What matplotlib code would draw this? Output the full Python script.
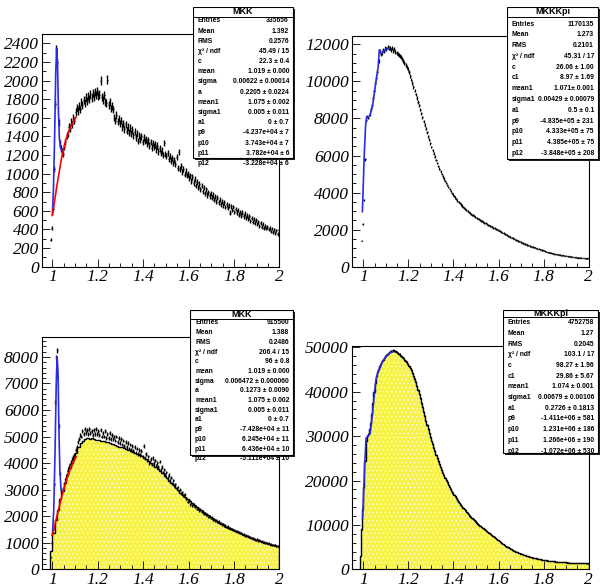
import numpy as np
import matplotlib.pyplot as plt
from matplotlib.patches import Rectangle
from matplotlib.ticker import MultipleLocator, FixedLocator, FuncFormatter

W, H = 602, 587
BW = 0.005  # bin width of the fine histograms

# ---- MKK, first sample (top left): bin contents from 0.99, width 0.005 ----
mkk_top_lo = 0.99
mkk_top = [
    290, 420, 620, 1050, 1750, 2330, 2200, 1550, 1320, 1270,
    1240, 1210, 1290, 1340, 1410, 1430, 1500, 1490, 1560, 1530,
    1600, 1570, 1660, 1710, 1670, 1730, 1690, 1770, 1740, 1790,
    1760, 1820, 1780, 1830, 1800, 1860, 1810, 1870, 1820, 1880,
    1840, 1890, 1830, 1850, 2000, 1820, 1790, 1840, 1770, 1760,
    2010, 1740, 1770, 1700, 1730, 1690, 1600, 1570, 1630, 1560,
    1590, 1540, 1570, 1500, 1540, 1480, 1530, 1460, 1500, 1440,
    1490, 1430, 1470, 1410, 1450, 1390, 1430, 1350, 1410, 1370,
    1400, 1340, 1390, 1350, 1370, 1320, 1360, 1300, 1340, 1280,
    1330, 1290, 1310, 1260, 1300, 1240, 1270, 1220, 1250, 1200,
    1330, 1210, 1190, 1220, 1160, 1190, 1140, 1170, 1110, 1150,
    1100, 1180, 1060, 1230, 1050, 1080, 1020, 1050, 990, 1030,
    980, 1000, 950, 980, 920, 960, 900, 940, 870, 910,
    850, 890, 830, 870, 810, 850, 790, 830, 770, 800,
    760, 790, 740, 770, 720, 750, 700, 740, 690, 720,
    670, 700, 660, 690, 640, 670, 630, 660, 580, 650,
    610, 640, 590, 620, 580, 610, 560, 590, 550, 580,
    540, 570, 520, 550, 510, 540, 490, 520, 480, 510,
    470, 500, 460, 480, 440, 470, 430, 460, 420, 440,
    410, 430, 400, 420, 380, 410, 370, 400, 360, 390,
    350, 390,
]
mkk_top_sig_x = [1.0, 1.005, 1.01, 1.015, 1.019, 1.023, 1.027, 1.031, 1.036, 1.041, 1.046, 1.05]
mkk_top_sig_y = [560, 850, 1400, 2100, 2350, 2150, 1650, 1380, 1280, 1250, 1240, 1260]
mkk_top_bkg_x = [1.0, 1.02, 1.04, 1.06, 1.08, 1.10, 1.104]
mkk_top_bkg_y = [550, 870, 1160, 1370, 1500, 1590, 1605]

# ---- MKKKpi, first sample (top right) ----
kpi_top_lo = 0.99
kpi_top = [
    1400, 2300, 3600, 5800, 7900, 8100, 8050, 8250, 8500, 8700,
    9100, 9500, 9900, 10200, 10500, 11100, 11650, 11500, 11550, 11700,
    11650, 11800, 11750, 11850, 11780, 11820, 11700, 11780, 11650, 11750,
    11600, 11550, 11500, 11450, 11380, 11300, 11200, 11100, 11000, 10900,
    10800, 10650, 10500, 10300, 10100, 9900, 9700, 9500, 9300, 9100,
    8900, 8700, 8480, 8270, 8060, 7850, 7650, 7450, 7250, 7050,
    6850, 6650, 6460, 6280, 6100, 5930, 5760, 5600, 5440, 5290,
    5150, 5010, 4880, 4750, 4630, 4510, 4400, 4290, 4190, 4090,
    3990, 3900, 3810, 3730, 3650, 3570, 3500, 3430, 3360, 3300,
    3240, 3180, 3120, 3070, 3010, 2960, 2910, 2860, 2810, 2770,
    2720, 2680, 2640, 2600, 2560, 2520, 2480, 2450, 2410, 2370,
    2340, 2300, 2270, 2230, 2200, 2170, 2130, 2100, 2070, 2040,
    2010, 1980, 1950, 1910, 1880, 1840, 1810, 1770, 1740, 1700,
    1670, 1640, 1610, 1570, 1540, 1510, 1480, 1450, 1420, 1390,
    1360, 1330, 1300, 1280, 1250, 1220, 1200, 1170, 1150, 1120,
    1100, 1080, 1060, 1040, 1020, 1000, 980, 960, 940, 920,
    900, 880, 850, 830, 810, 790, 775, 760, 745, 725,
    710, 695, 680, 670, 660, 645, 635, 625, 615, 605,
    595, 585, 575, 565, 555, 545, 540, 530, 520, 515,
    505, 500, 495, 490, 480, 475, 470, 465, 460, 455,
    450, 445,
]
kpi_top_fit_x = [0.996, 1.004, 1.010, 1.015, 1.020, 1.025, 1.030, 1.041, 1.055, 1.066,
                 1.071, 1.076, 1.081, 1.090, 1.096, 1.105, 1.115]
kpi_top_fit_y = [2970, 6000, 7600, 8100, 8060, 8100, 8190, 8670, 9900, 10800,
                 11700, 11600, 11520, 11600, 11700, 11750, 11800]

# ---- MKK, second sample (bottom left) ----
mkk_bot_lo = 0.99
mkk_bot = [
    450, 1000, 1500, 3200, 6300, 8000, 8250, 5400, 3600, 3000,
    2950, 3050, 3250, 3400, 3550, 3700, 3850, 3950, 4050, 4150,
    4250, 4300, 4500, 4600, 4800, 4900, 5050, 5000, 5200, 5100,
    5300, 5150, 5250, 5100, 5300, 5150, 5200, 5050, 5250, 5100,
    5300, 5100, 5200, 5050, 5250, 5000, 5150, 5000, 5200, 4950,
    5100, 4950, 5150, 4900, 5050, 4900, 5000, 4850, 5000, 4800,
    4950, 4750, 4900, 4700, 4850, 4650, 4800, 4600, 4750, 4550,
    4700, 4500, 4650, 4450, 4600, 4400, 4550, 4350, 4500, 4300,
    4450, 4250, 4640, 4200, 4350, 4100, 4250, 4000, 4150, 3950,
    4200, 4000, 4100, 3900, 4000, 3850, 4050, 3750, 3850, 3650,
    3750, 3550, 3650, 3450, 3550, 3350, 3450, 3250, 3350, 3150,
    3200, 3050, 3100, 2950, 3000, 2850, 2900, 2780, 2820, 2680,
    2650, 2550, 2600, 2450, 2500, 2400, 2450, 2350, 2380, 2280,
    2300, 2220, 2250, 2150, 2180, 2100, 2120, 2040, 2060, 1980,
    2000, 1930, 1950, 1880, 1900, 1830, 1850, 1780, 1800, 1730,
    1750, 1690, 1700, 1640, 1650, 1600, 1610, 1550, 1570, 1510,
    1520, 1470, 1480, 1430, 1440, 1390, 1400, 1350, 1360, 1310,
    1320, 1270, 1290, 1240, 1250, 1200, 1220, 1170, 1190, 1140,
    1160, 1110, 1130, 1080, 1100, 1050, 1070, 1020, 1040, 990,
    1010, 970, 980, 940, 960, 920, 930, 900, 910, 870,
    890, 850,
]
# filled reference histogram, width 0.01 from 0.99
mkk_bot_fill_lo = 0.99
mkk_bot_fill_bw = 0.01
mkk_bot_fill = [
    700, 1350, 1850, 2250, 2650, 2950, 3250, 3550, 3800, 4000,
    4200, 4400, 4600, 4750, 4850, 4900, 4950, 4920, 4950, 4900,
    4880, 4860, 4850, 4820, 4800, 4780, 4750, 4720, 4680, 4650,
    4620, 4600, 4570, 4540, 4500, 4470, 4430, 4390, 4350, 4300,
    4250, 4200, 4140, 4080, 4010, 3940, 3860, 3780, 3700, 3610,
    3520, 3430, 3340, 3250, 3160, 3070, 2980, 2890, 2810, 2730,
    2650, 2570, 2500, 2430, 2360, 2290, 2220, 2160, 2100, 2040,
    1980, 1920, 1870, 1810, 1760, 1710, 1660, 1610, 1570, 1520,
    1480, 1440, 1400, 1360, 1320, 1280, 1250, 1210, 1180, 1150,
    1120, 1090, 1060, 1030, 1000, 980, 950, 930, 900, 880,
    860,
]
mkk_bot_sig_x = [1.0, 1.006, 1.012, 1.017, 1.021, 1.025, 1.029, 1.033, 1.038, 1.045, 1.05]
mkk_bot_sig_y = [1290, 2200, 4500, 7000, 8000, 7400, 5200, 3700, 3050, 2900, 3000]
mkk_bot_bkg_x = [1.0, 1.02, 1.04, 1.06, 1.08, 1.104]
mkk_bot_bkg_y = [1290, 2000, 2700, 3300, 3800, 4240]

# ---- MKKKpi, second sample (bottom right) ----
kpi_bot_lo = 0.985
kpi_bot = [
    3000, 9000, 13500, 18500, 24500, 29000, 30000, 30500, 31500, 33000,
    35000, 37500, 40000, 42000, 43500, 44500, 45200, 45800, 46300, 46800,
    47200, 47600, 48000, 48300, 48600, 48800, 49000, 49100, 49200, 49300,
    49200, 49100, 49000, 48800, 48600, 48400, 48100, 47800, 47500, 47200,
    46900, 46600, 46200, 45800, 45300, 44800, 44200, 43600, 42900, 42100,
    41300, 40400, 39500, 38500, 37500, 36500, 35500, 34500, 33500, 32500,
    31600, 30700, 29800, 29000, 28200, 27400, 26600, 25800, 25100, 24400,
    23700, 23000, 22400, 21800, 21200, 20600, 20100, 19600, 19100, 18600,
    18100, 17600, 17200, 16800, 16400, 16000, 15600, 15200, 14900, 14500,
    14200, 13900, 13600, 13300, 13000, 12700, 12400, 12100, 11800, 11500,
    11300, 11000, 10800, 10500, 10300, 10000, 9800, 9600, 9400, 9200,
    9000, 8800, 8600, 8400, 8200, 8000, 7800, 7600, 7400, 7200,
    7000, 6800, 6600, 6400, 6200, 6000, 5800, 5600, 5400, 5250,
    5100, 4950, 4800, 4650, 4500, 4350, 4200, 4100, 3950, 3850,
    3750, 3650, 3550, 3450, 3350, 3250, 3150, 3060, 2980, 2900,
    2830, 2760, 2690, 2620, 2560, 2500, 2440, 2380, 2330, 2280,
    2230, 2180, 2130, 2090, 2050, 2010, 1970, 1930, 1900, 1870,
    1840, 1810, 1780, 1750, 1720, 1700, 1680, 1660, 1640, 1620,
    1600, 1580, 1560, 1540, 1520, 1500, 1490, 1470, 1460, 1450,
    1440, 1430, 1420, 1410, 1400, 1390, 1380, 1370, 1360, 1350,
    1340, 1330, 1320,
]
kpi_bot_fit_x = [0.997, 1.005, 1.012, 1.020, 1.030, 1.041, 1.050, 1.056, 1.065, 1.074,
                 1.085, 1.096, 1.108, 1.118, 1.130]
kpi_bot_fit_y = [11500, 22000, 29500, 30000, 30500, 35200, 40000, 42700, 44500, 45300,
                 46800, 47600, 48300, 48700, 49000]

# ---- fit statistics boxes ----
stats_mkk_top = [
    ("Entries", "335656"), ("Mean", "1.392"), ("RMS", "0.2576"),
    ("χ² / ndf", "45.49 / 15"), ("c", "22.3 ± 0.4"), ("mean", "1.019 ± 0.000"),
    ("sigma", "0.00622 ± 0.00014"), ("a", "0.2205 ± 0.0224"), ("mean1", "1.075 ± 0.002"),
    ("sigma1", "0.005 ± 0.011"), ("a1", "0 ± 0.7"), ("p9", "-4.237e+04 ± 7"),
    ("p10", "3.743e+04 ± 7"), ("p11", "3.782e+04 ± 6"), ("p12", "-3.228e+04 ± 6"),
]
stats_kpi_top = [
    ("Entries", "1170135"), ("Mean", "1.273"), ("RMS", "0.2101"),
    ("χ² / ndf", "45.31 / 17"), ("c", "26.06 ± 1.00"), ("c1", "8.97 ± 1.69"),
    ("mean1", "1.071± 0.001"), ("sigma1", "0.00429 ± 0.00079"), ("a1", "0.5 ± 0.1"),
    ("p9", "-4.835e+05 ± 231"), ("p10", "4.333e+05 ± 75"), ("p11", "4.385e+05 ± 75"),
    ("p12", "-3.848e+05 ± 208"),
]
stats_mkk_bot = [
    ("Entries", "915500"), ("Mean", "1.388"), ("RMS", "0.2486"),
    ("χ² / ndf", "206.4 / 15"), ("c", "96 ± 0.8"), ("mean", "1.019 ± 0.000"),
    ("sigma", "0.006472 ± 0.000060"), ("a", "0.1273 ± 0.0090"), ("mean1", "1.075 ± 0.002"),
    ("sigma1", "0.005 ± 0.011"), ("a1", "0 ± 0.7"), ("p9", "-7.428e+04 ± 11"),
    ("p10", "6.245e+04 ± 11"), ("p11", "6.436e+04 ± 10"), ("p12", "-5.111e+04 ± 10"),
]
stats_kpi_bot = [
    ("Entries", "4752758"), ("Mean", "1.27"), ("RMS", "0.2045"),
    ("χ² / ndf", "103.1 / 17"), ("c", "98.27 ± 1.96"), ("c1", "29.86 ± 5.67"),
    ("mean1", "1.074 ± 0.001"), ("sigma1", "0.00679 ± 0.00106"), ("a1", "0.2726 ± 0.1813"),
    ("p9", "-1.411e+06 ± 581"), ("p10", "1.231e+06 ± 186"), ("p11", "1.266e+06 ± 190"),
    ("p12", "-1.072e+06 ± 530"),
]

YELLOW = "#f7f24a"
BLUE = "#2a2ae8"

# axis numbers in Times-like italic
plt.rcParams["font.family"] = "Liberation Serif"
plt.rcParams["font.style"] = "italic"
plt.rcParams["hatch.linewidth"] = 0.4

fig = plt.figure(figsize=(W / 100, H / 100), dpi=100)
fig.patch.set_facecolor("white")


def pad(l, t, r, b):
    return fig.add_axes([l / W, 1 - b / H, (r - l) / W, (b - t) / H])


def style(ax, xlo, ymax, ymaj, ymin):
    ax.set_xlim(xlo, 2.0)
    ax.set_ylim(0, ymax)
    ax.xaxis.set_major_locator(FixedLocator([1.0, 1.2, 1.4, 1.6, 1.8, 2.0]))
    ax.xaxis.set_major_formatter(FuncFormatter(lambda v, p: f"{v:g}"))
    ax.xaxis.set_minor_locator(MultipleLocator(0.05))
    ax.yaxis.set_major_locator(MultipleLocator(ymaj))
    ax.yaxis.set_minor_locator(MultipleLocator(ymin))
    ax.yaxis.set_major_formatter(FuncFormatter(lambda v, p: f"{v:.0f}"))
    ax.tick_params(which="both", direction="in", top=False, right=False,
                   width=0.6, labelsize=12.5, pad=2)
    ax.tick_params(which="major", length=6)
    ax.tick_params(which="minor", length=3)
    for s in ax.spines.values():
        s.set_linewidth(0.8)
    ax.set_axisbelow(False)


def centers(lo, vals, bw=BW):
    return lo + bw * (np.arange(len(vals)) + 0.5)


def edges(lo, vals, bw=BW):
    return lo + bw * np.arange(len(vals) + 1)


def points(ax, lo, vals, lw=0.8):
    y = np.asarray(vals, float)
    x = centers(lo, vals)
    ax.errorbar(x, y, yerr=np.sqrt(y), xerr=BW / 2, fmt="none", ecolor="black",
                elinewidth=lw, capsize=0, zorder=4)


def filled(ax, lo, vals, bw):
    e = edges(lo, vals, bw)
    ax.stairs(vals, e, fill=True, facecolor=YELLOW, edgecolor="white", hatch="....",
              linewidth=0, zorder=2)
    ax.stairs(vals, e, color="black", linewidth=1.0, zorder=3)


def stat_box(l, t, r, b, title, rows, title_y, line_y, first_y, step):
    bx = fig.add_axes([l / W, 1 - (b + 3) / H, (r - l + 3) / W, (b - t + 3) / H])
    bx.set_xlim(l, r + 3)
    bx.set_ylim(b + 3, t)
    bx.axis("off")
    bx.add_patch(Rectangle((l + 2, t + 2), r - l, b - t, facecolor="#202020", lw=0))
    bx.add_patch(Rectangle((l, t), r - l, b - t, facecolor="white",
                           edgecolor="black", lw=0.8))
    bx.plot([l, r], [line_y, line_y], color="black", lw=0.7)
    kw = dict(family="Liberation Sans", fontweight="bold", style="normal", va="center")
    bx.text((l + r) / 2, title_y, title, ha="center", fontsize=6.5, **kw)
    for i, (k, v) in enumerate(rows):
        y = first_y + i * step
        bx.text(l + 5, y, k, ha="left", fontsize=4.9, **kw)
        bx.text(r - 4, y, v, ha="right", fontsize=4.9, **kw)


# top left: MKK with phi peak and background fit
ax1 = pad(41.7, 34, 279.3, 266.7)
style(ax1, 0.953, 2500, 200, 100)
points(ax1, mkk_top_lo, mkk_top, lw=1.0)
ax1.plot(mkk_top_sig_x, mkk_top_sig_y, color=BLUE, lw=1.2, zorder=5)
ax1.plot(mkk_top_bkg_x, mkk_top_bkg_y, color="red", lw=1.2, zorder=5)

# top right: MKKKpi
ax2 = pad(351.7, 36, 588.7, 266.7)
style(ax2, 0.9485, 12450, 2000, 500)
points(ax2, kpi_top_lo, kpi_top, lw=0.9)
ax2.plot(kpi_top_fit_x, kpi_top_fit_y, color=BLUE, lw=1.2, zorder=5)

# bottom left: MKK, filled reference plus data points
ax3 = pad(41.7, 337.3, 279.3, 569.3)
style(ax3, 0.953, 8740, 1000, 200)
filled(ax3, mkk_bot_fill_lo, mkk_bot_fill, mkk_bot_fill_bw)
points(ax3, mkk_bot_lo, mkk_bot, lw=1.0)
ax3.plot(mkk_bot_sig_x, mkk_bot_sig_y, color=BLUE, lw=1.2, zorder=5)
ax3.plot(mkk_bot_bkg_x, mkk_bot_bkg_y, color="red", lw=1.2, zorder=5)

# bottom right: MKKKpi filled
ax4 = pad(351.7, 346, 588.7, 569.3)
style(ax4, 0.9485, 50300, 10000, 2000)
filled(ax4, kpi_bot_lo, kpi_bot, BW)
points(ax4, kpi_bot_lo, kpi_bot, lw=0.8)
ax4.plot(kpi_bot_fit_x, kpi_bot_fit_y, color=BLUE, lw=1.2, zorder=5)

stat_box(193, 7, 293, 158, "MKK", stats_mkk_top, 11.5, 16.7, 20.9, 10.18)
stat_box(507, 7, 598, 159, "MKKKpi", stats_kpi_top, 11.7, 17.3, 24.0, 10.78)
stat_box(190, 310, 293, 455, "MKK", stats_mkk_bot, 314.5, 319.3, 322.9, 9.7)
stat_box(503, 310, 598, 453, "MKKKpi", stats_kpi_bot, 313.3, 316.7, 322.7, 10.7)

fig.savefig("out.png", dpi=100)
